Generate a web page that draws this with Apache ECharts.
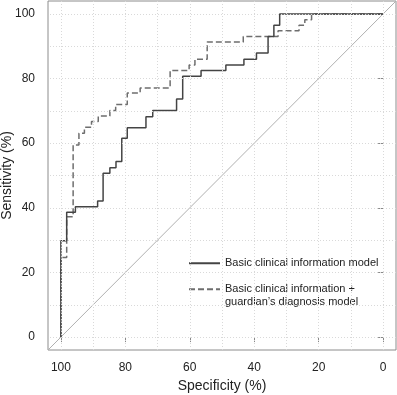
<!DOCTYPE html>
<html>
<head>
<meta charset="utf-8">
<script src="https://cdn.jsdelivr.net/npm/echarts@6/dist/echarts.min.js"></script>
<style>
    html, body { margin: 0; padding: 0; background: #fff; }
    #chart { width: 397px; height: 395px; }
</style>
</head>
<body>
<div id="chart"></div>
<script>
// ROC points (specificity %, sensitivity %)
const basicSpec = [100, 100, 98.2, 95.5, 88.6, 86.9, 84.8, 82.9, 81.1, 79.4, 73.6, 71.5, 64.1, 62.2, 56.5, 48.8, 43.2, 39.3, 35.7, 33.9, 32.1, 0];
const basicSens = [0, 29.8, 38.6, 40.3, 42.1, 50.7, 52.4, 54.3, 61.5, 64.8, 68.2, 70.1, 73.7, 80.7, 82.5, 84.2, 86.0, 87.9, 93.0, 96.5, 100, 100];

const guardSpec = [100, 100, 98.2, 96.2, 94.4, 92.7, 90.5, 88.4, 84.8, 83.0, 79.4, 75.4, 66.1, 60.2, 58.4, 54.6, 43.4, 32.6, 26.1, 24.3, 22.2, 0];
const guardSens = [0, 24.6, 37.2, 59.4, 63.1, 64.9, 66.7, 68.4, 70.1, 72.0, 75.5, 77.1, 82.5, 84.2, 86.0, 91.3, 93.0, 94.8, 96.5, 98.2, 100, 100];

const labelTicks = [0, 20, 40, 60, 80, 100];
const gridTicks = [0, 10, 20, 30, 40, 50, 60, 70, 80, 90, 100];
const axisMin = -4;
const axisMax = 104;

const basicName = 'Basic clinical information model';
const guardName = 'Basic clinical information +\nguardian\u2019s diagnosis model';

const font = '"Liberation Sans", Arial, Helvetica, sans-serif';

const zip = (a, b) => a.map((v, i) => [v, b[i]]);

const axisCommon = {
    type: 'value',
    min: axisMin,
    max: axisMax,
    axisLine: { show: false },
    axisTick: {
        show: true,
        length: 5,
        customValues: labelTicks,
        lineStyle: { color: '#888', width: 1 }
    },
    axisLabel: {
        customValues: labelTicks,
        color: '#222',
        fontSize: 12,
        fontFamily: font
    },
    splitLine: { show: false },
    nameLocation: 'middle',
    nameMoveOverlap: false,
    nameTextStyle: { color: '#222', fontSize: 14, fontFamily: font }
};

const chart = echarts.init(document.getElementById('chart'), null, { renderer: 'canvas' });

const option = {
    animation: false,
    backgroundColor: '#fff',
    grid: {
        show: true,
        left: 48,
        top: 1,
        width: 348,
        height: 349,
        outerBoundsMode: 'none',
        containLabel: false,
        borderColor: '#8c8c8c',
        borderWidth: 1,
        backgroundColor: 'transparent'
    },
    xAxis: Object.assign({}, axisCommon, {
        inverse: true,
        name: 'Specificity (%)',
        nameGap: 29,
        axisLabel: Object.assign({}, axisCommon.axisLabel, { margin: 12 })
    }),
    yAxis: Object.assign({}, axisCommon, {
        name: 'Sensitivity (%)',
        nameGap: 34,
        axisLabel: Object.assign({}, axisCommon.axisLabel, { margin: 13 })
    }),
    legend: {
        orient: 'vertical',
        left: 188,
        top: 257,
        padding: 0,
        itemWidth: 31,
        itemHeight: 12,
        itemGap: 1,
        data: [basicName, guardName],
        formatter: (name) => name === guardName ? '\n' + name : name,
        itemStyle: { opacity: 0 },
        lineStyle: { opacity: 1 },
        textStyle: { color: '#222', fontSize: 11, lineHeight: 12.5, fontFamily: font },
        selectedMode: false
    },
    series: [
        {
            // dotted grid lines every 10 %
            name: 'grid',
            type: 'line',
            data: [],
            silent: true,
            markLine: {
                silent: true,
                symbol: ['none', 'none'],
                label: { show: false },
                lineStyle: { color: '#d9d9d9', type: [1, 2], width: 1 },
                data: gridTicks.map(v => ({ xAxis: v })).concat(gridTicks.map(v => ({ yAxis: v })))
            }
        },
        {
            // chance line
            name: 'diag',
            type: 'line',
            data: [[axisMax, axisMin], [axisMin, axisMax]],
            symbol: 'none',
            silent: true,
            lineStyle: { color: '#b0b0b0', width: 1 }
        },
        {
            name: basicName,
            type: 'line',
            step: 'end',
            data: zip(basicSpec, basicSens),
            symbol: 'none',
            lineStyle: { color: '#444', width: 1.5 },
            itemStyle: { color: '#444' },
            z: 4
        },
        {
            name: guardName,
            type: 'line',
            step: 'end',
            data: zip(guardSpec, guardSens),
            symbol: 'none',
            lineStyle: { color: '#6e6e6e', width: 1.5, type: [6, 3] },
            itemStyle: { color: '#6e6e6e' },
            z: 3
        }
    ]
};

chart.setOption(option);
</script>
</body>
</html>
